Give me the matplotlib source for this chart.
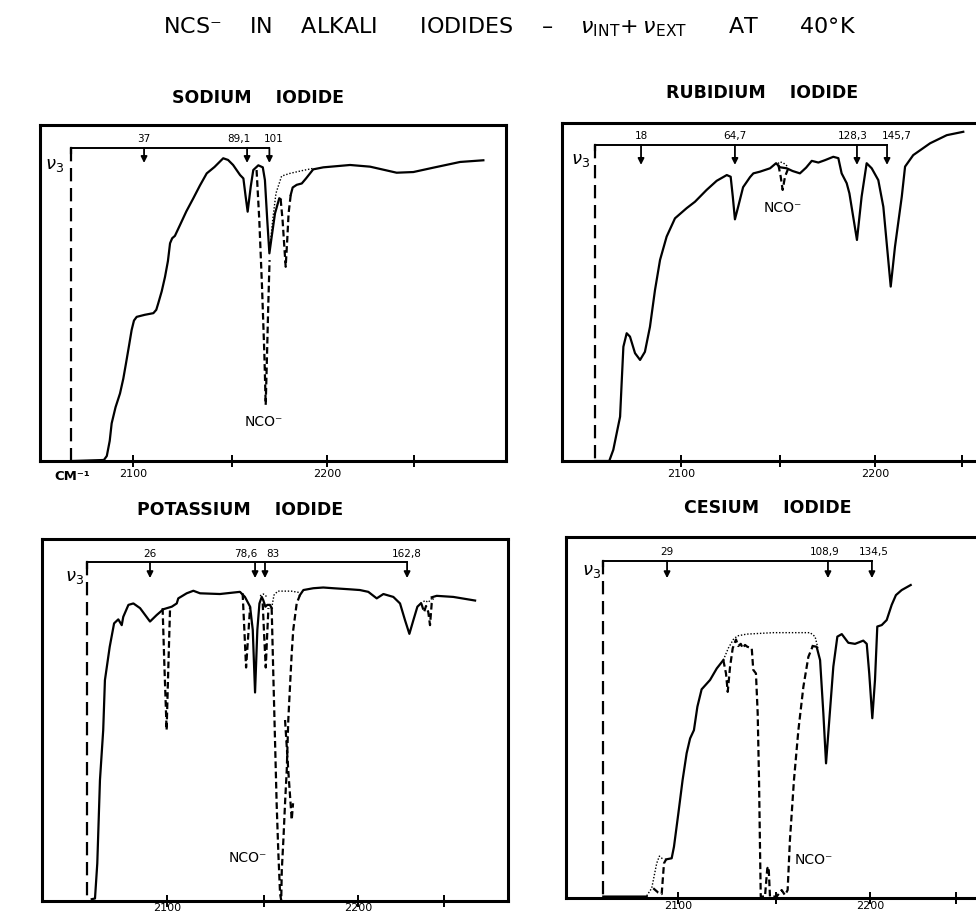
import numpy as np
import matplotlib.pyplot as plt

plt.rcParams['font.family'] = ['DejaVu Sans', 'Noto Sans']
nan = np.nan

W, H = 976, 917   # picture size in pixels

# ---------------- sodium iodide ----------------
na_solid_x = [2068.4, 2085.0, 2086.5, 2088.0, 2089.0, 2091.0, 2093.3, 2095.0, 2096.4, 2098.0,
              2099.3, 2100.5, 2101.9, 2106.0, 2110.5, 2112.0, 2113.0, 2114.8, 2116.5, 2118.0,
              2119.1, 2120.2, 2121.6, 2124.2, 2127.5, 2131.1, 2134.5, 2138.0, 2142.0, 2146.5,
              2149.0, 2151.6, 2155.2, 2156.9, 2158.0, 2159.1, 2160.7, 2162.0, 2164.6, 2166.9,
              2168.0, 2169.2, 2170.3, 2171.5, 2173.2, 2175.4, 2176.1, nan,
              2181.3, 2182.3, 2184.4, 2187.0, 2189.2, 2192.9, 2198.1, 2211.9, 2222.2, 2235.9,
              2244.5, 2254.8, 2268.6, 2280.6]
na_solid_y = [0.0, 0.3, 1.5, 6.0, 11.2, 16.0, 20.1, 24.5, 29.1, 34.5,
              39.0, 41.8, 42.9, 43.5, 44.0, 45.0, 46.9, 50.5, 54.8, 59.5,
              64.8, 66.3, 67.0, 70.2, 74.3, 78.2, 82.0, 85.6, 87.5, 90.1,
              89.6, 88.1, 85.1, 84.1, 79.0, 74.2, 81.7, 86.6, 88.0, 87.4,
              83.6, 71.7, 61.8, 66.8, 73.7, 78.2, 77.9, nan,
              79.2, 81.4, 82.2, 82.6, 84.1, 86.8, 87.4, 88.1, 87.6, 85.8,
              86.0, 87.3, 89.0, 89.5]
na_dash_x = [2163.7, 2165.1, 2166.5, 2167.7, 2168.4, 2169.1, 2169.7, 2170.4, nan,
             2176.1, 2177.1, 2178.0, 2178.7, 2179.5, 2180.2, 2181.3]
na_dash_y = [86.6, 71.7, 51.9, 32.0, 16.7, 32.0, 45.9, 59.8, nan,
             77.9, 71.7, 63.8, 57.8, 65.8, 73.7, 79.2]
na_dot_x = [2170.6, 2172.0, 2173.7, 2176.6, 2180.9, 2187.0, 2192.9]
na_dot_y = [63.8, 71.7, 79.7, 84.8, 85.6, 86.4, 87.1]
na_v3 = 2068.0
na_arrows = [2105.7, 2158.8, 2170.3]
na_labels = ['37', '89,1', '101']

# ---------------- rubidium iodide ----------------
rb_solid_x = [2055.7, 2063.0, 2065.1, 2067.2, 2068.6, 2069.4, 2070.3, 2072.0, 2073.7, 2076.3,
              2078.9, 2081.4, 2084.0, 2086.6, 2089.2, 2092.6, 2096.9, 2102.9, 2107.2, 2113.2,
              2118.4, 2123.6, 2125.6, 2126.7, 2127.8, 2129.5, 2132.0, 2135.6, 2137.3, 2140.7,
              2145.9, 2149.0, 2151.0, 2154.5, 2157.5, 2161.3, 2164.5, 2167.4, 2170.8, 2174.2,
              2178.5, 2181.1, 2182.8, 2185.4, 2186.8, 2190.7, 2193.1, 2195.7, 2198.3, 2201.7,
              2204.3, 2208.1, 2210.3, 2213.8, 2215.5, 2219.7, 2228.4, 2237.0, 2245.5]
rb_solid_y = [0.0, 0.0, 3.3, 9.2, 13.1, 23.0, 33.8, 37.8, 36.8, 31.9,
              29.9, 32.3, 39.7, 50.6, 59.5, 66.4, 71.8, 74.8, 76.7, 80.2,
              82.9, 84.6, 84.1, 78.2, 71.5, 75.3, 81.0, 84.0, 85.1, 85.6,
              86.6, 88.1, 86.9, 86.6, 85.8, 85.1, 86.8, 88.8, 88.3, 89.0,
              90.0, 89.6, 85.1, 82.2, 79.2, 65.4, 78.2, 88.1, 86.6, 83.1,
              75.2, 51.6, 63.4, 78.2, 87.1, 90.5, 94.0, 96.4, 97.4]
rb_dash_x = [2150.2, 2151.4, 2152.4, 2153.6, 2155.3]
rb_dash_y = [87.6, 84.1, 80.2, 84.1, 86.6]
rb_dot_x = [2150.0, 2151.0, 2152.7, 2154.0, 2155.3]
rb_dot_y = [88.0, 88.5, 88.2, 87.6, 87.0]
rb_v3 = 2055.7
rb_arrows = [2079.4, 2127.8, 2190.7, 2206.2]
rb_labels = ['18', '64,7', '128,3', '145,7']

# ---------------- potassium iodide ----------------
k_solid_x = [2060.6, 2062.3, 2063.5, 2064.9, 2066.6, 2067.5, 2070.0, 2072.3, 2074.5, 2076.3,
             2077.1, 2079.8, 2082.4, 2085.9, 2091.1, 2094.6, 2098.1, 2102.5, 2105.1, 2105.9,
             2110.3, 2113.8, 2117.3, 2127.7, 2138.2, 2140.8, 2143.5, 2144.9, 2146.1, 2147.3,
             2148.4, 2149.6, 2150.4, 2151.5, 2152.5, 2153.9, 2154.8, nan,
             2169.6, 2171.4, 2176.6, 2181.8, 2187.1, 2195.8, 2201.0, 2205.4, 2209.8, 2213.3,
             2218.5, 2222.0, 2224.6, 2226.9, 2229.0, 2231.1, 2232.9, nan,
             2238.6, 2241.2, 2249.9, 2261.3]
k_solid_y = [0.5, 0.7, 10.4, 33.4, 47.2, 61.0, 70.2, 76.7, 77.8, 76.2,
             78.5, 81.8, 82.2, 80.9, 77.2, 79.0, 80.6, 81.3, 82.2, 83.6,
             85.0, 85.7, 85.0, 84.8, 85.4, 84.0, 81.3, 74.9, 57.6, 74.9,
             82.2, 84.0, 83.1, 81.3, 81.8, 81.8, 80.9, nan,
             84.5, 85.9, 86.4, 86.6, 86.4, 86.1, 85.9, 85.4, 83.6, 84.8,
             84.0, 82.2, 77.6, 73.8, 77.6, 81.3, 82.2, nan,
             83.9, 84.3, 84.0, 83.0]
k_dash_x = [2097.7, 2098.6, 2099.8, 2100.7, 2101.6, nan,
            2139.6, 2140.5, 2141.4, 2142.6, 2143.5, nan,
            2150.1, 2150.9, 2151.7, 2152.4, 2153.1, nan,
            2154.8, 2155.6, 2156.5, 2157.4, 2158.3, 2159.2, 2159.8, 2160.1, 2161.0, 2161.8,
            2162.7, 2163.5, 2164.4, 2165.3, 2166.1, 2167.9, 2169.6, nan,
            2161.8, 2163.5, 2165.3, 2166.0, nan,
            2232.9, 2233.4, 2234.6, 2235.6, 2236.8, 2237.7, 2238.6, 2239.3]
k_dash_y = [80.9, 65.6, 47.2, 64.7, 80.9, nan,
            85.0, 74.9, 64.5, 73.9, 81.3, nan,
            82.2, 73.0, 64.5, 73.0, 80.9, nan,
            80.9, 63.8, 45.4, 27.0, 13.2, 2.0, 0.2, 8.5, 17.6, 27.0,
            36.2, 50.0, 59.3, 68.5, 74.9, 82.2, 84.5, nan,
            50.0, 36.0, 22.4, 27.0, nan,
            82.2, 81.8, 79.8, 81.5, 79.8, 76.2, 82.3, 83.6]
k_dot_x = [2148.7, 2150.5, 2152.4, nan,
           2154.8, 2156.0, 2158.0, 2165.0, 2169.6, nan,
           2232.9, 2235.1, 2236.8, 2238.6]
k_dot_y = [84.3, 84.8, 84.0, nan,
           80.9, 84.5, 85.6, 85.6, 85.2, nan,
           82.2, 83.0, 82.5, 83.6]
k_v3 = 2058.1
k_arrows = [2091.1, 2146.1, 2151.3, 2225.7]
k_labels = ['26', '78,6', '83', '162,8']

# ---------------- cesium iodide ----------------
cs_solid_x = [2061.1, 2083.7, nan,
              2093.8, 2096.7, 2097.9, 2100.2, 2102.4, 2104.5, 2106.3, 2108.3, 2110.1, 2112.3,
              2116.7, 2120.2, 2123.6, nan,
              2170.2, 2172.2, 2174.0, 2175.7, 2177.1, 2178.8, 2180.9, 2183.0, 2185.3, 2188.7,
              2192.2, 2196.5, 2198.3, 2199.6, 2201.2, 2202.6, 2203.8, 2206.1, 2208.7, 2211.3,
              2213.5, 2216.5, 2221.2]
cs_solid_y = [0.4, 0.4, nan,
              10.7, 11.0, 14.2, 23.5, 32.7, 40.1, 44.2, 46.5, 53.0, 57.8,
              60.4, 63.6, 65.9, nan,
              69.8, 69.6, 65.9, 51.2, 37.3, 49.3, 64.1, 72.4, 73.1, 70.7,
              70.4, 71.3, 70.4, 62.2, 49.8, 60.4, 75.2, 75.6, 77.0, 81.2,
              83.9, 85.3, 86.7]
cs_dash_x = [2087.1, 2089.7, 2091.5, 2092.7, 2093.8, nan,
             2123.6, 2125.0, 2125.9, 2127.1, 2128.5, 2130.2, 2131.4, 2132.7, 2133.7, 2134.9,
             2136.1, 2138.4, 2139.2, 2140.6, 2141.5, 2142.2, 2142.7, 2143.1, 2145.3, 2146.5,
             2147.2, 2147.9, 2151.4, 2154.0, 2155.7, 2157.1, 2158.3, 2160.4, 2162.7, 2165.3,
             2167.9, 2170.2]
cs_dash_y = [2.7, 1.5, 1.1, 9.6, 10.7, nan,
             65.9, 62.2, 57.1, 64.0, 69.2, 71.6, 69.8, 70.4, 69.2, 70.1,
             69.6, 69.2, 63.2, 62.2, 51.2, 32.7, 14.2, 0.4, 0.4, 8.2,
             8.7, 0.4, 0.4, 2.2, 0.8, 2.2, 16.1, 32.7, 46.5, 58.5,
             66.8, 69.8]
cs_dot_x = [2083.7, 2086.3, 2088.9, 2090.3, 2092.3, nan,
            2123.6, 2126.2, 2128.8, 2130.9, 2135.8, 2149.6, 2168.8, 2171.4, 2173.1]
cs_dot_y = [0.6, 2.7, 9.6, 11.6, 10.7, nan,
            65.9, 69.2, 71.6, 72.6, 73.1, 73.5, 73.5, 72.4, 68.7]
cs_v3 = 2061.0
cs_arrows = [2094.3, 2178.1, 2201.0]
cs_labels = ['29', '108,9', '134,5']

tick_marks = [2100, 2151, 2200, 2245]
tick_text = ['2100', '', '2200', '']


def fr(x, y):
    return x / W, 1 - y / H


def make_ax(fig, box, cal, pad):
    # box = (left, top, right, bottom) px ; cal = (px of 2100, px of 2200)
    l, t, r, b = box
    ax = fig.add_axes([l / W, 1 - b / H, (r - l) / W, (b - t) / H])
    k = 100.0 / (cal[1] - cal[0])
    ax.set_xlim(2100 + (l - cal[0]) * k, 2100 + (r - cal[0]) * k)
    ax.set_ylim(0, 100)
    for s in ax.spines.values():
        s.set_linewidth(2.2)
    ax.set_yticks([])
    ax.set_xticks(tick_marks)
    ax.set_xticklabels(tick_text)
    ax.tick_params(axis='x', direction='inout', length=9, width=1.4, labelsize=8, pad=pad)
    return ax


def draw(ax, sx, sy, dx, dy, px, py, v3, arrows, labels, lab_dx, bar_y, tip_y, nu_pos, nco_pos, nco_ha):
    ax.plot(sx, sy, color='k', lw=1.6, solid_joinstyle='round')
    ax.plot(dx, dy, color='k', lw=1.6, ls=(0, (3, 1.6)))
    ax.plot(px, py, color='k', lw=1.0, ls=(0, (1, 1.3)))
    # nu3 bracket
    ax.plot([v3, v3], [bar_y, 0], color='k', lw=1.6, ls=(0, (6, 3)))
    ax.plot([v3, arrows[-1]], [bar_y, bar_y], color='k', lw=1.4)
    ax.plot([v3, v3], [bar_y, bar_y - 1.5], color='k', lw=1.6)
    for a, s, d in zip(arrows, labels, lab_dx):
        ax.annotate('', xy=(a, tip_y), xytext=(a, bar_y),
                    arrowprops=dict(arrowstyle='-|>', color='k', lw=1.3,
                                    mutation_scale=9, shrinkA=0, shrinkB=0))
        ax.annotate(s, xy=(a, bar_y), xytext=(d, 2.5), textcoords='offset points',
                    ha='center', va='bottom', fontsize=7.5)
    ax.text(nu_pos[0], nu_pos[1], r'$\nu_3$', fontsize=13, ha='center', va='center')
    ax.text(nco_pos[0], nco_pos[1], 'NCO⁻', fontsize=10, ha=nco_ha, va='center')


fig = plt.figure(figsize=(W / 100, H / 100), dpi=100)

ax_na = make_ax(fig, (40, 125, 506, 461), (133, 327), 1.0)
draw(ax_na, na_solid_x, na_solid_y, na_dash_x, na_dash_y, na_dot_x, na_dot_y,
     na_v3, na_arrows, na_labels, [0, -6, 3], 93.2, 88.7, (2059.5, 88.0), (2167.5, 11.6), 'center')

ax_rb = make_ax(fig, (562, 123, 990, 461), (681, 875), 1.0)
draw(ax_rb, rb_solid_x, rb_solid_y, rb_dash_x, rb_dash_y, rb_dot_x, rb_dot_y,
     rb_v3, rb_arrows, rb_labels, [0, 0, -3, 7], 93.5, 87.6, (2048.0, 89.0), (2152.6, 74.9), 'center')

ax_k = make_ax(fig, (42, 539, 508, 901), (167, 358), -3.2)
draw(ax_k, k_solid_x, k_solid_y, k_dash_x, k_dash_y, k_dot_x, k_dot_y,
     k_v3, k_arrows, k_labels, [0, -7, 6, 0], 93.6, 89.2, (2051.5, 89.5), (2142.1, 11.9), 'center')

ax_cs = make_ax(fig, (566, 537, 990, 898), (678, 870), -2.6)
draw(ax_cs, cs_solid_x, cs_solid_y, cs_dash_x, cs_dash_y, cs_dot_x, cs_dot_y,
     cs_v3, cs_arrows, cs_labels, [0, -2, 1], 93.4, 88.6, (2055.0, 90.5), (2160.9, 10.5), 'left')

# titles
fig.text(*fr(510, 27), 'NCS⁻    IN    ALKALI      IODIDES    –    '
         r'$\nu_{\mathrm{INT}}\!+\nu_{\mathrm{EXT}}$      AT      40°K',
         ha='center', va='center', fontsize=16)
fig.text(*fr(258, 98), 'SODIUM    IODIDE', ha='center', va='center', fontsize=12.5, fontweight='bold')
fig.text(*fr(762, 93), 'RUBIDIUM    IODIDE', ha='center', va='center', fontsize=12.5, fontweight='bold')
fig.text(*fr(240, 510), 'POTASSIUM    IODIDE', ha='center', va='center', fontsize=12.5, fontweight='bold')
fig.text(*fr(768, 508), 'CESIUM    IODIDE', ha='center', va='center', fontsize=12.5, fontweight='bold')
fig.text(*fr(72, 476), 'CM⁻¹', ha='center', va='center', fontsize=9.5, fontweight='bold')

fig.savefig('out.png', dpi=100)
